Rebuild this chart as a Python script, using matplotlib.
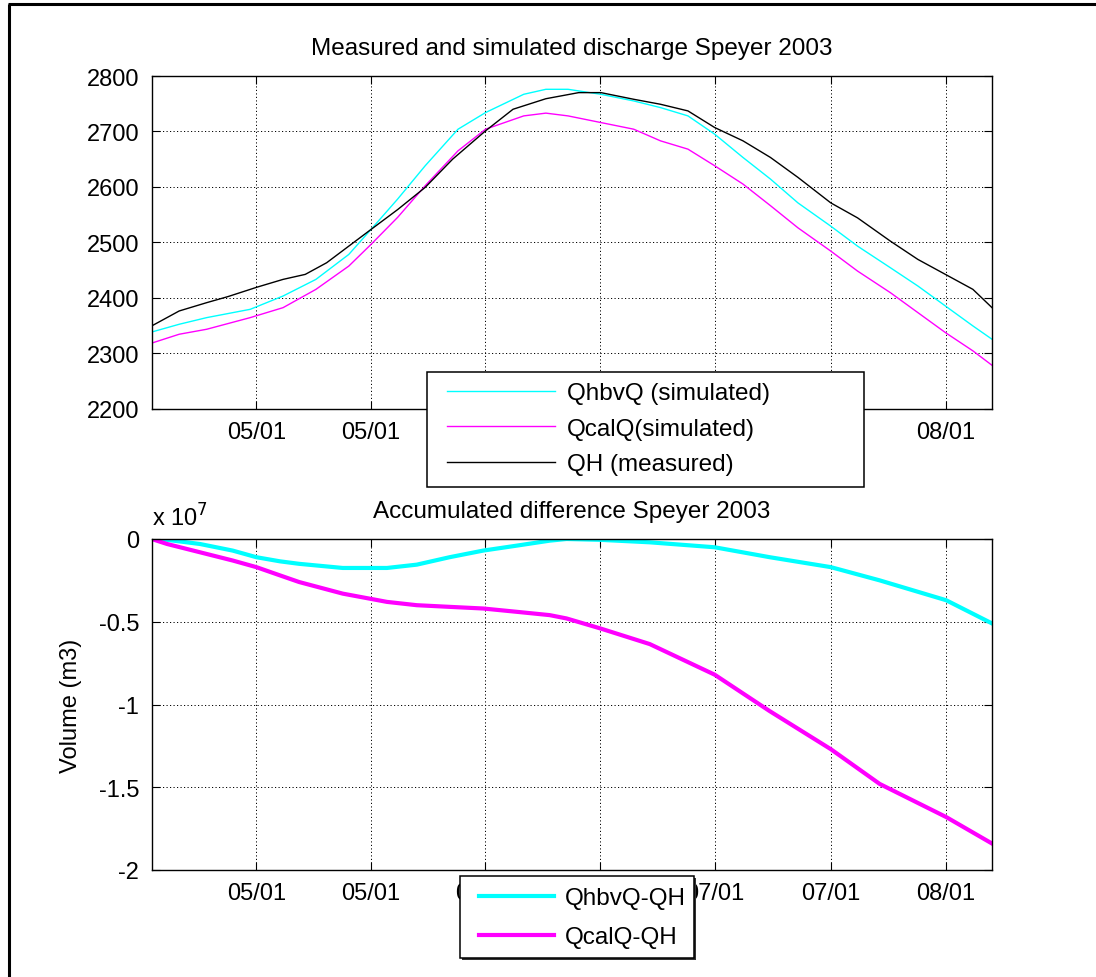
import matplotlib
matplotlib.use("Agg")
import matplotlib.pyplot as plt
from matplotlib.lines import Line2D
from matplotlib.patches import Rectangle
from matplotlib.ticker import FuncFormatter

plt.rcParams['font.family'] = ['Liberation Sans', 'DejaVu Sans']

# --- data (days since start of plotted period) ---
tick_days = [13.7, 28.7, 43.6, 58.7, 73.7, 88.9, 104.0]
tick_labels_top = ['05/01', '05/01', '', '', '', '', '08/01']
tick_labels_bottom = ['05/01', '05/01', '06/01', '', '07/01', '07/01', '08/01']

qh_days = [0, 3.6, 7.2, 10.0, 13.8, 17.2, 20.1, 22.9, 25.8, 28.7, 32.2, 35.8,
           39.4, 43.7, 47.3, 51.6, 55.9, 58.8, 63.1, 66.6, 70.2, 73.7, 77.4,
           81.0, 84.6, 88.9, 92.4, 96.7, 100.3, 103.9, 107.5, 110]
qh_measured = [2349, 2376, 2391, 2402, 2419, 2433, 2442, 2463, 2493, 2523,
               2559, 2599, 2650, 2701, 2740, 2759, 2770, 2770, 2758, 2749,
               2737, 2707, 2683, 2653, 2617, 2571, 2544, 2502, 2469, 2442,
               2415, 2382]

sim_days = [0, 3.6, 7.2, 12.9, 17.2, 21.5, 25.8, 28.7, 32.2, 35.8, 40.1, 43.7,
            48.7, 51.6, 54.5, 58.8, 63.1, 66.6, 70.2, 73.7, 77.4, 81.0, 84.6,
            88.9, 92.4, 96.7, 100.3, 103.9, 107.5, 110]
qhbv_sim = [2338, 2352, 2364, 2379, 2403, 2433, 2478, 2523, 2578, 2638, 2704,
            2734, 2767, 2776, 2776, 2767, 2755, 2743, 2728, 2695, 2653, 2614,
            2571, 2529, 2493, 2454, 2421, 2385, 2349, 2325]
qcal_sim = [2318, 2334, 2343, 2364, 2382, 2415, 2457, 2496, 2545, 2602, 2665,
            2704, 2728, 2733, 2728, 2716, 2704, 2683, 2668, 2638, 2605, 2566,
            2526, 2484, 2448, 2409, 2373, 2337, 2304, 2278]

acc_days = [0, 2.0, 6.3, 10.6, 13.7, 16.8, 19.3, 25.0, 30.8, 34.7, 39.0, 43.4,
            47.8, 52.1, 54.3, 58.7, 65.2, 73.7, 80.9, 88.9, 95.3, 104.0, 110]
acc_hbv = [0, -0.005e7, -0.03e7, -0.07e7, -0.11e7, -0.135e7, -0.15e7,
           -0.175e7, -0.175e7, -0.155e7, -0.11e7, -0.07e7, -0.04e7, -0.01e7,
           0, -0.005e7, -0.02e7, -0.05e7, -0.11e7, -0.17e7, -0.25e7, -0.37e7,
           -0.51e7]
acc_cal = [0, -0.03e7, -0.08e7, -0.13e7, -0.17e7, -0.22e7, -0.26e7, -0.33e7,
           -0.38e7, -0.40e7, -0.41e7, -0.42e7, -0.44e7, -0.46e7, -0.48e7,
           -0.54e7, -0.635e7, -0.82e7, -1.04e7, -1.27e7, -1.48e7, -1.68e7,
           -1.84e7]

FS = 17
W, H = 1096, 978
fig = plt.figure(figsize=(W / 100, H / 100), dpi=100)
fig.patch.set_facecolor('white')


def fx(px):
    return px / W


def fy(py):
    return 1 - py / H


def style_axes(ax, labels):
    ax.set_xlim(0, 110)
    ax.set_xticks(tick_days)
    ax.set_xticklabels(labels)
    ax.grid(True, color='black', linestyle=(0, (1.2, 2.4)), linewidth=0.7)
    ax.tick_params(direction='in', length=6, width=0.8, labelsize=FS,
                   top=True, right=True, pad=9)
    for s in ax.spines.values():
        s.set_linewidth(1.0)


def legend_box(x0, y0, x1, y1, shadow=False):
    if shadow:
        fig.add_artist(Rectangle((fx(x0) + 2 / W, fy(y1) - 2 / H),
                                 fx(x1) - fx(x0), fy(y0) - fy(y1),
                                 transform=fig.transFigure, facecolor='#333333',
                                 edgecolor='none', zorder=4))
    fig.add_artist(Rectangle((fx(x0), fy(y1)), fx(x1) - fx(x0), fy(y0) - fy(y1),
                             transform=fig.transFigure, facecolor='white',
                             edgecolor='black', linewidth=1.1, zorder=5))


# upper panel: discharge
ax1 = fig.add_axes([fx(151.7), fy(409.5), fx(992) - fx(151.7), fy(77) - fy(409.5)])
h1, = ax1.plot(sim_days, qhbv_sim, color='#00FFFF', lw=1.0)
h2, = ax1.plot(sim_days, qcal_sim, color='#FF00FF', lw=1.0)
h3, = ax1.plot(qh_days, qh_measured, color='black', lw=1.0)
style_axes(ax1, tick_labels_top)
ax1.set_ylim(2200, 2800)
ax1.set_yticks(range(2200, 2801, 100))
ax1.set_title('Measured and simulated discharge Speyer 2003', fontsize=17.5, pad=16)

legend_box(427, 373, 864, 488)
leg1 = fig.legend([h1, h2, h3],
                  ['QhbvQ (simulated)', 'QcalQ(simulated)', 'QH (measured)'],
                  loc='upper left', bbox_to_anchor=(fx(447), fy(383)),
                  bbox_transform=fig.transFigure, fontsize=17.5, frameon=False,
                  handlelength=4.45, handletextpad=0.5, labelspacing=0.56,
                  borderpad=0, borderaxespad=0)
leg1.set_zorder(6)

# lower panel: accumulated difference
ax2 = fig.add_axes([fx(151.7), fy(871), fx(992) - fx(151.7), fy(540) - fy(871)])
g1, = ax2.plot(acc_days, acc_hbv, color='#00FFFF', lw=3.0)
g2, = ax2.plot(acc_days, acc_cal, color='#FF00FF', lw=3.0)
style_axes(ax2, tick_labels_bottom)
ax2.set_ylim(-2e7, 0)
ax2.set_yticks([-2e7, -1.5e7, -1e7, -0.5e7, 0])
ax2.yaxis.set_major_formatter(FuncFormatter(lambda v, p: f'{v / 1e7:g}'))
ax2.set_title('Accumulated difference Speyer 2003', fontsize=17.5, pad=16)
ax2.set_ylabel('Volume (m3)', fontsize=FS, labelpad=12)
ax2.text(0.0, 1.025, 'x 10$^{7}$', transform=ax2.transAxes, fontsize=FS,
         ha='left', va='bottom')

legend_box(460, 877, 694, 959, shadow=True)
leg2 = fig.legend([g1, g2], ['QhbvQ-QH', 'QcalQ-QH'],
                  loc='upper left', bbox_to_anchor=(fx(479), fy(888)),
                  bbox_transform=fig.transFigure, fontsize=17.5, frameon=False,
                  handlelength=3.1, handletextpad=0.45, labelspacing=0.7,
                  borderpad=0, borderaxespad=0)
leg2.set_zorder(6)

# outer frame of the figure
fig.add_artist(Line2D([fx(9), fx(9)], [fy(4.5), 0.0], color='black', lw=2.2,
                      transform=fig.transFigure, solid_capstyle='butt'))
fig.add_artist(Line2D([fx(8), 1.0], [fy(4.5), fy(4.5)], color='black', lw=2.2,
                      transform=fig.transFigure, solid_capstyle='butt'))

fig.savefig('out.png', dpi=100, facecolor='white')
